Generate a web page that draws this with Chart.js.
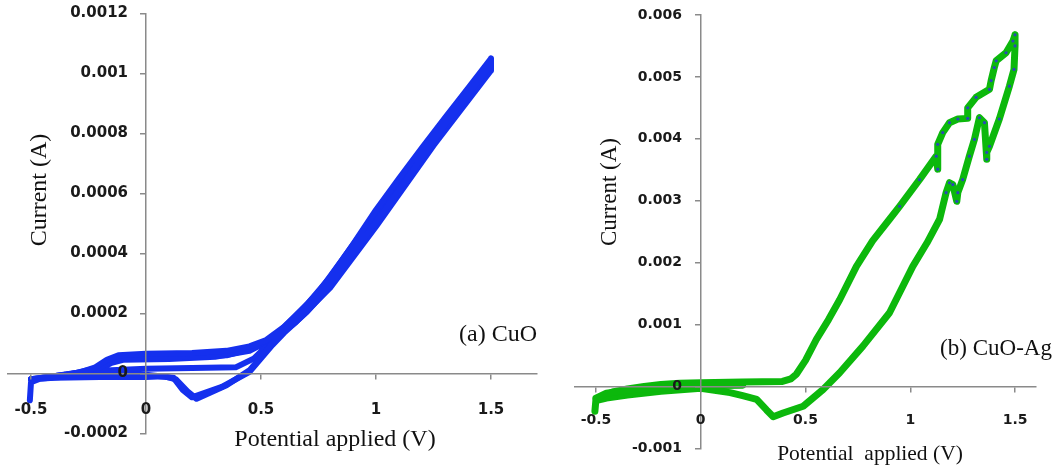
<!DOCTYPE html>
<html lang="en">
<head>
<meta charset="UTF-8">
<title>CuO / CuO-Ag cyclic voltammetry</title>
<script src="https://cdn.jsdelivr.net/npm/chart.js"></script>
<style>
    body { margin: 0; background: #fff; }
    #wrap { position: relative; width: 1060px; height: 465px; overflow: hidden; }
    #panelA { position: absolute; left: 0; top: 0; width: 545px; height: 465px; }
    #panelB { position: absolute; left: 530px; top: 0; width: 530px; height: 465px; }
</style>
</head>
<body>
<div id="wrap">
    <div id="panelA"><canvas id="chartA" width="545" height="465"></canvas></div>
    <div id="panelB"><canvas id="chartB" width="530" height="465"></canvas></div>
</div>
<script>
    // ---- data: [potential (V), current (A)] ----
    const cuoCycle1 = [
        [-0.505, -0.00009], [-0.5, -0.00003], [-0.45, -0.000015], [-0.35, -0.000005], [-0.28, 0.000005],
        [-0.22, 0.00002], [-0.17, 0.000045], [-0.12, 0.00006], [0, 0.000065], [0.2, 0.000068],
        [0.35, 0.000075], [0.45, 0.00009], [0.52, 0.00011], [0.6, 0.000155], [0.7, 0.00023],
        [0.8, 0.00032], [0.9, 0.00043], [1.0, 0.000545], [1.1, 0.00065], [1.2, 0.000752],
        [1.3, 0.000852], [1.4, 0.00095], [1.5, 0.00105],
        [1.5, 0.00103], [1.4, 0.00093], [1.3, 0.00083], [1.2, 0.00072], [1.1, 0.00061],
        [1.0, 0.000505], [0.9, 0.0004], [0.8, 0.000295], [0.7, 0.00021], [0.6, 0.00014],
        [0.55, 0.0001], [0.45, 0.00001], [0.35, -0.00004], [0.22, -0.000085], [0.18, -0.00006],
        [0.13, -0.00002], [0.08, -0.00001], [0, -0.000012], [-0.2, -0.000012], [-0.4, -0.000015],
        [-0.5, -0.00002]
    ];
    const cuoCycle2 = [
        [-0.5, -0.00002], [-0.4, -0.00001], [-0.3, 0.000002], [-0.2, 0.00002], [-0.15, 0.00004],
        [-0.1, 0.00005], [0, 0.000052], [0.2, 0.000055], [0.35, 0.00006], [0.45, 0.00008],
        [0.55, 0.000118], [0.65, 0.00019], [0.75, 0.00027], [0.85, 0.000375], [1.0, 0.000535],
        [1.2, 0.000742], [1.4, 0.000945], [1.5, 0.001045],
        [1.5, 0.00102], [1.3, 0.00082], [1.0, 0.000495], [0.8, 0.00029], [0.7, 0.000205],
        [0.6, 0.000135], [0.55, 0.000095], [0.45, 0.000005], [0.33, -0.000045], [0.2, -0.00008],
        [0.16, -0.000055], [0.12, -0.000015], [0, -0.000005], [-0.3, -0.000008], [-0.5, -0.00002]
    ];
    const cuoCycle3 = [
        [-0.5, -0.00002], [-0.3, 0], [-0.2, 0.000015], [-0.15, 0.000035], [-0.1, 0.000045],
        [0.1, 0.000048], [0.3, 0.000055], [0.45, 0.000075], [0.55, 0.000115], [0.7, 0.000215],
        [0.85, 0.00037], [1.0, 0.00053], [1.25, 0.000795], [1.5, 0.00104],
        [1.5, 0.00101], [1.25, 0.00076], [1.0, 0.00049], [0.8, 0.000285], [0.65, 0.00017],
        [0.55, 0.00011], [0.47, 0.00005], [0.39, 0.00002], [0.2, 0.000018], [0, 0.000015],
        [-0.15, 0.00001], [-0.3, 0], [-0.5, -0.00002]
    ];

    const cuoAgScan = [
        [-0.505, -0.0004], [-0.5, -0.00021], [-0.46, -0.00015], [-0.42, -0.00009], [-0.35, -0.00004],
        [-0.27, 0], [-0.19, 0.00003], [-0.1, 0.00005], [0, 0.00006], [0.2, 0.00007],
        [0.39, 0.00008], [0.43, 0.00012], [0.457, 0.0002], [0.5, 0.00042], [0.552, 0.00076],
        [0.61, 0.00108], [0.663, 0.0014], [0.743, 0.00194], [0.82, 0.00235], [0.901, 0.0027],
        [0.949, 0.00291], [1.044, 0.00334], [1.124, 0.00372], [1.131, 0.00351], [1.131, 0.00391],
        [1.155, 0.0041], [1.187, 0.00426], [1.227, 0.00432], [1.274, 0.00433], [1.274, 0.0045],
        [1.314, 0.00467], [1.378, 0.0048], [1.386, 0.00494], [1.401, 0.00515], [1.41, 0.00526],
        [1.457, 0.00539], [1.49, 0.00558], [1.5, 0.00568],
        [1.5, 0.0055], [1.495, 0.00512], [1.473, 0.00485], [1.425, 0.00432], [1.378, 0.00388],
        [1.365, 0.00378], [1.365, 0.00367], [1.354, 0.00426], [1.33, 0.00434], [1.306, 0.00399],
        [1.282, 0.00372], [1.25, 0.00334], [1.227, 0.00313], [1.222, 0.00299], [1.203, 0.00326],
        [1.187, 0.00329], [1.171, 0.00313], [1.14, 0.0027], [1.08, 0.00232], [1.012, 0.00194],
        [0.901, 0.00119], [0.774, 0.00065], [0.663, 0.00022], [0.584, -0.00005], [0.489, -0.00032],
        [0.393, -0.00043], [0.346, -0.00049], [0.314, -0.00038], [0.267, -0.00021], [0.2, -0.00015],
        [0.14, -0.0001], [0, -0.00003], [-0.19, -0.00008], [-0.35, -0.00014], [-0.45, -0.00019],
        [-0.5, -0.00023]
    ];
    const cuoAgWedge = [
        [-0.5, -0.00019], [-0.45, -0.00011], [-0.35, -0.00006], [-0.2, -0.00002], [0, 0.00001], [0.2, 0.00002]
    ];

    const potentialTicks = [-0.5, 0, 0.5, 1, 1.5];
    const cuoCurrentTicks = [-0.0002, 0, 0.0002, 0.0004, 0.0006, 0.0008, 0.001, 0.0012];
    const cuoAgCurrentTicks = [-0.001, 0, 0.001, 0.002, 0.003, 0.004, 0.005, 0.006];

    const xTitleA = 'Potential applied (V)';
    const xTitleB = 'Potential  applied (V)';
    const yTitle = 'Current (A)';
    const labelA = '(a) CuO';
    const labelB = '(b) CuO-Ag';

    // ---- drawing ----
    const AXIS_GRAY = '#8a8a8a';
    const fmt = (v) => String(parseFloat(Number(v).toFixed(6)));

    // axis titles and panel label, drawn as canvas text
    const panelText = {
        id: 'panelText',
        afterDraw(chart, args, o) {
            const ctx = chart.ctx;
            ctx.save();
            ctx.fillStyle = '#111';
            ctx.textBaseline = 'middle';
            ctx.textAlign = 'center';
            ctx.font = o.xFont;
            ctx.fillText(o.xTitle, o.xTitlePos[0], o.xTitlePos[1]);
            ctx.font = o.labelFont;
            ctx.fillText(o.label, o.labelPos[0], o.labelPos[1]);
            ctx.translate(o.yTitlePos[0], o.yTitlePos[1]);
            ctx.rotate(-Math.PI / 2);
            ctx.font = o.yFont;
            ctx.fillText(o.yTitle, 0, 0);
            ctx.restore();
        }
    };

    function makeScales(cfg) {
        const tickFont = { family: 'DejaVu Sans', size: cfg.tickSize, weight: 'bold' };
        const axisLine = {
            grid: { display: true, drawOnChartArea: false, drawTicks: true, tickLength: 5, color: AXIS_GRAY, lineWidth: 1.5, z: 1 },
            border: { display: true, color: AXIS_GRAY, width: 1.5, z: 1 },
            ticks: { display: false }
        };
        const labelsOnly = (font) => ({
            grid: { display: false, drawTicks: false },
            border: { display: false },
            ticks: { autoSkip: false, maxRotation: 0, padding: 0, color: '#1a1a1a', z: 1, font: font, callback: fmt }
        });
        return {
            // axis lines crossing at zero
            x: Object.assign({
                type: 'linear', axis: 'x', min: cfg.xMin, max: cfg.xMax, position: { y: 0 },
                afterBuildTicks: (s) => { s.ticks = potentialTicks.map(v => ({ value: v })); }
            }, axisLine),
            y: Object.assign({
                type: 'linear', axis: 'y', min: cfg.yMin, max: cfg.yMax, position: { x: 0 },
                afterBuildTicks: (s) => { s.ticks = cfg.yTicks.map(v => ({ value: v })); }
            }, axisLine),
            // tick labels, set a little away from the axis lines
            x2: Object.assign({
                type: 'linear', axis: 'x', min: cfg.xMin, max: cfg.xMax, position: { y: cfg.xLabelAt },
                afterBuildTicks: (s) => { s.ticks = potentialTicks.map(v => ({ value: v })); }
            }, labelsOnly(tickFont)),
            y2: Object.assign({
                type: 'linear', axis: 'y', min: cfg.yMin, max: cfg.yMax, position: { x: cfg.yLabelAt },
                afterBuildTicks: (s) => { s.ticks = cfg.yTicks.map(v => ({ value: v })); }
            }, labelsOnly(tickFont))
        };
    }

    function line(data, color, width, extra) {
        return Object.assign({
            data: data, showLine: true, borderColor: color, backgroundColor: color,
            borderWidth: width, pointRadius: 0, tension: 0, fill: false,
            borderJoinStyle: 'round', borderCapStyle: 'round', xAxisID: 'x', yAxisID: 'y'
        }, extra || {});
    }

    const BLUE = '#1530ee';
    const GREEN = '#0cb80c';

    new Chart(document.getElementById('chartA'), {
        type: 'scatter',
        data: {
            datasets: [
                line(cuoCycle1, BLUE, 6),
                line(cuoCycle2, BLUE, 6),
                line(cuoCycle3, BLUE, 6)
            ]
        },
        options: {
            responsive: false, animation: false,
            layout: { padding: { left: 8, right: 8, top: 13.5, bottom: 31.7 } },
            scales: makeScales({ xMin: -0.6, xMax: 1.7, yMin: -0.0002, yMax: 0.0012,
                                 yTicks: cuoCurrentTicks, xLabelAt: -0.000092, yLabelAt: -0.078, tickSize: 15 }),
            plugins: {
                legend: { display: false }, tooltip: { enabled: false },
                panelText: {
                    xTitle: xTitleA, xTitlePos: [335, 440], xFont: '24px "Liberation Serif"',
                    yTitle: yTitle, yTitlePos: [40, 190], yFont: '24px "Liberation Serif"',
                    label: labelA, labelPos: [498, 335], labelFont: '24px "Liberation Serif"'
                }
            }
        },
        plugins: [panelText]
    });

    new Chart(document.getElementById('chartB'), {
        type: 'scatter',
        data: {
            datasets: [
                line(cuoAgWedge, GREEN, 7),
                line(cuoAgScan, GREEN, 7, {
                    pointRadius: (c) => (c.raw && c.raw[1] > 0.0029 ? 1.6 : 0),
                    pointBackgroundColor: '#2a48b8', pointBorderWidth: 0
                })
            ]
        },
        options: {
            responsive: false, animation: false,
            layout: { padding: { left: 45, right: 24, top: 15, bottom: 16.7 } },
            scales: makeScales({ xMin: -0.6, xMax: 1.6, yMin: -0.001, yMax: 0.006,
                                 yTicks: cuoAgCurrentTicks, xLabelAt: -0.00042, yLabelAt: -0.089, tickSize: 14 }),
            plugins: {
                legend: { display: false }, tooltip: { enabled: false },
                panelText: {
                    xTitle: xTitleB, xTitlePos: [340, 454], xFont: '21.5px "Liberation Serif"',
                    yTitle: yTitle, yTitlePos: [80, 192], yFont: '23px "Liberation Serif"',
                    label: labelB, labelPos: [466, 349], labelFont: '23px "Liberation Serif"'
                }
            }
        },
        plugins: [panelText]
    });
</script>
</body>
</html>
